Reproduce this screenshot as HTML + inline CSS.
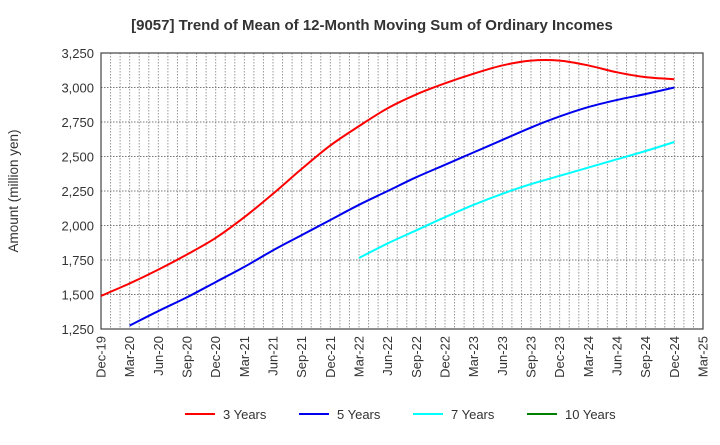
<!DOCTYPE html>
<html><head><meta charset="utf-8"><style>
body{margin:0;background:#fff;font-family:"Liberation Sans",sans-serif;}
</style></head><body>
<svg width="720" height="440" xmlns="http://www.w3.org/2000/svg" font-family="Liberation Sans, sans-serif">
<text x="372" y="30" text-anchor="middle" font-size="15" font-weight="bold" fill="#333">[9057]  Trend of Mean of 12-Month Moving Sum of Ordinary Incomes</text>
<text transform="translate(18,191) rotate(-90)" text-anchor="middle" font-size="13.5" fill="#333">Amount (million yen)</text>
<g id="grid"></g><g id="axes"></g><g id="series"></g><g id="legend"></g>
</svg>
<script>
const xLabels=["Dec-19","Mar-20","Jun-20","Sep-20","Dec-20","Mar-21","Jun-21","Sep-21","Dec-21","Mar-22","Jun-22","Sep-22","Dec-22","Mar-23","Jun-23","Sep-23","Dec-23","Mar-24","Jun-24","Sep-24","Dec-24","Mar-25"];
const yTicks=[1250,1500,1750,2000,2250,2500,2750,3000,3250];
const s3=[1490,1580,1680,1790,1910,2060,2230,2410,2580,2720,2850,2950,3030,3100,3160,3195,3195,3160,3110,3075,3060];
const s5=[null,1275,1380,1480,1590,1700,1820,1930,2040,2150,2250,2350,2440,2530,2620,2710,2790,2858,2910,2953,3000];
const s7=[null,null,null,null,null,null,null,null,null,1765,1870,1965,2060,2150,2230,2300,2360,2420,2480,2540,2605];
const s10=[];
const L=101,R=703,T=53,B=329,NS="http://www.w3.org/2000/svg";
const xq=i=>L+i*(R-L)/21;
const y=v=>B-(v-1250)*(B-T)/2000;
function el(t,a,p){const e=document.createElementNS(NS,t);for(const k in a)e.setAttribute(k,a[k]);p.appendChild(e);return e;}
const grid=document.getElementById('grid'),axes=document.getElementById('axes'),ser=document.getElementById('series'),leg=document.getElementById('legend');
for(let m=1;m<63;m++){const x=L+m*(R-L)/63;const g=el('line',{x1:x,x2:x,y1:T,y2:B,stroke:'#999','stroke-dasharray':'1.5,1.5','stroke-width':1},grid);

}
yTicks.forEach(v=>{const g=el('line',{x1:L,x2:R,y1:y(v),y2:y(v),stroke:'#777','stroke-dasharray':'1.5,1.5'},grid);


const t=el('text',{x:L-7,y:y(v)+5,'text-anchor':'end','font-size':13,fill:'#333'},axes);t.textContent=v.toLocaleString('en-US');

});
xLabels.forEach((s,i)=>{const x=xq(i);const t=el('text',{transform:`translate(${x+4.5},${B+7}) rotate(-90)`,'text-anchor':'end','font-size':13,fill:'#333'},axes);t.textContent=s;

});
const fr=el('rect',{x:L,y:T,width:R-L,height:B-T,fill:'none',stroke:'#444','stroke-width':1.2},axes);


function path(d,c,name){const pts=[];d.forEach((v,i)=>{if(v!=null)pts.push([xq(i),y(v)]);});if(pts.length<2)return;
let s=`M${pts[0][0]},${pts[0][1]}`;for(let i=0;i<pts.length-1;i++){const p0=pts[Math.max(0,i-1)],p1=pts[i],p2=pts[i+1],p3=pts[Math.min(pts.length-1,i+2)];
s+=` C${p1[0]+(p2[0]-p0[0])/6},${p1[1]+(p2[1]-p0[1])/6} ${p2[0]-(p3[0]-p1[0])/6},${p2[1]-(p3[1]-p1[1])/6} ${p2[0]},${p2[1]}`;}
const e=el('path',{d:s,fill:'none',stroke:c,'stroke-width':2},ser);

}
path(s3,'#ff0000','line-3-years');path(s5,'#0000ee','line-5-years');path(s7,'#00ffff','line-7-years');path(s10,'#008000','line-10-years');
[["3 Years","#ff0000",185],["5 Years","#0000ee",299],["7 Years","#00ffff",413],["10 Years","#008000",527]].forEach(([n,c,x])=>{
const g=el('g',{},leg);

el('line',{x1:x,x2:x+30,y1:414,y2:414,stroke:c,'stroke-width':2},g);
const t=el('text',{x:x+38,y:419,'font-size':13,fill:'#333'},g);t.textContent=n;});
</script>
</body></html>
